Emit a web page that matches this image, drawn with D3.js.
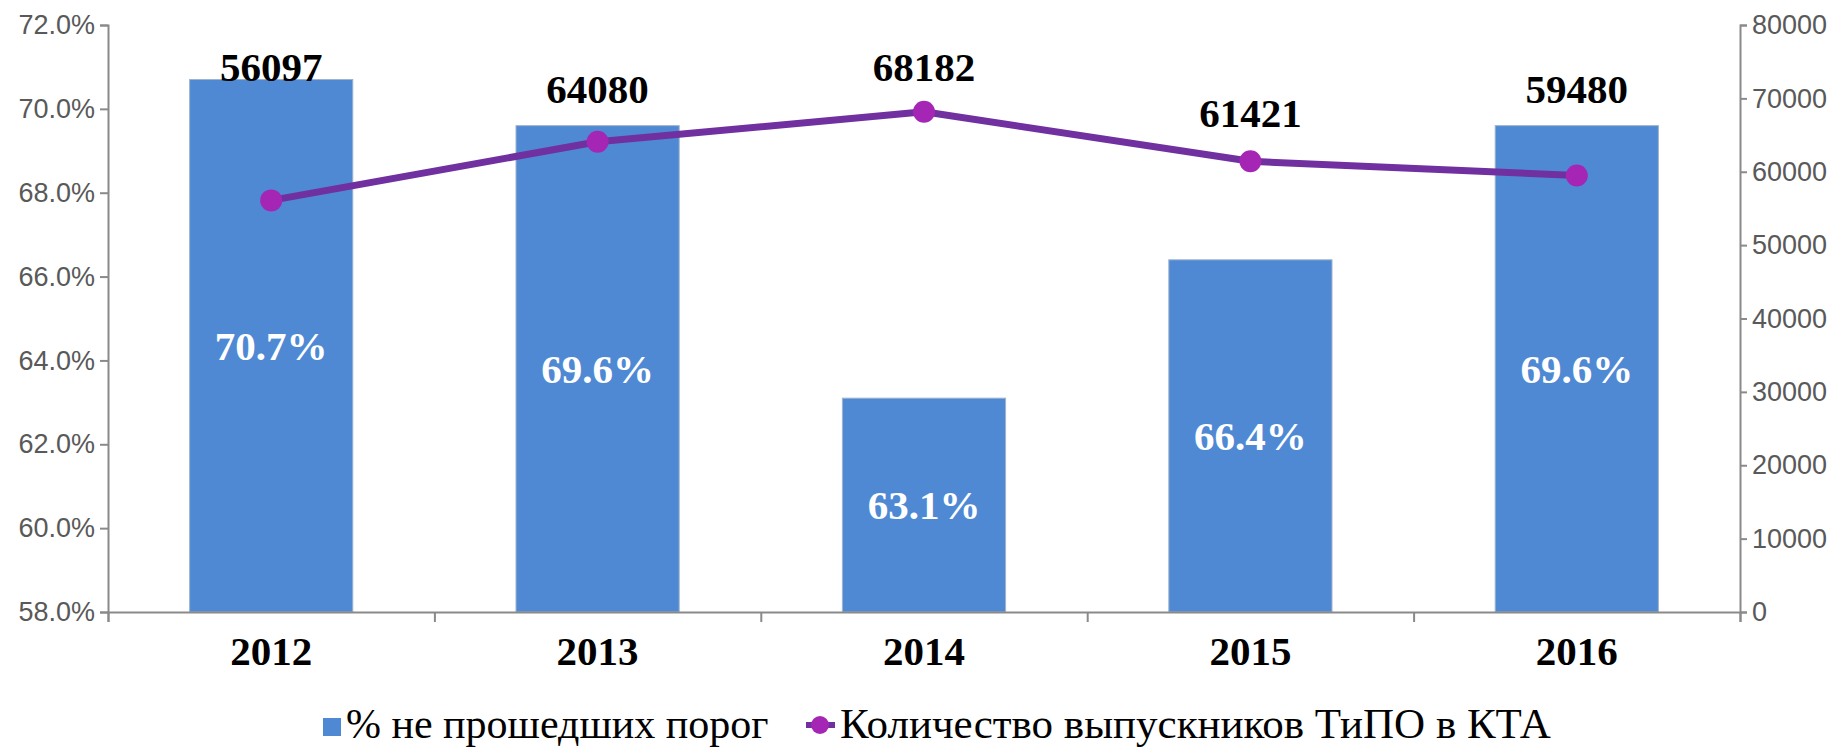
<!DOCTYPE html>
<html>
<head>
<meta charset="utf-8">
<script src="https://cdn.jsdelivr.net/npm/d3@7"></script>
<style>
  html, body { margin: 0; padding: 0; background: #fff; }
  svg { display: block; }
</style>
</head>
<body>
<svg width="1839" height="748"></svg>
<script>
// dati
var years = ["2012", "2013", "2014", "2015", "2016"];
var failShare = [70.7, 69.6, 63.1, 66.4, 69.6];          // % не прошедших порог
var graduates = [56097, 64080, 68182, 61421, 59480];     // Количество выпускников ТиПО в КТА
var leftTicks = [58, 60, 62, 64, 66, 68, 70, 72];
var rightTicks = [0, 10000, 20000, 30000, 40000, 50000, 60000, 70000, 80000];
var legendLabels = ["% не прошедших порог", "Количество выпускников ТиПО в КТА"];

var svg = d3.select("svg");
// "top" è già window.top, quindi nomi diversi
var plotLeft = 108, plotRight = 1740, plotTop = 25, plotBottom = 612;
var serif = "'Liberation Serif', 'Times New Roman', serif";
var sans = "'Liberation Sans', Arial, sans-serif";

var x = d3.scaleBand().domain(years).range([plotLeft, plotRight])
  .paddingInner(0.5).paddingOuter(0.25);
var xEdges = d3.scaleLinear().domain([0, years.length]).range([plotLeft, plotRight]);
var yLeft = d3.scaleLinear().domain([58, 72]).range([plotBottom, plotTop]);
var yRight = d3.scaleLinear().domain([0, 80000]).range([plotBottom, plotTop]);

var data = years.map((y, i) => ({year: y, pct: failShare[i], n: graduates[i]}));

// barre
svg.selectAll("rect.bar")
  .data(data)
  .enter()
  .append("rect")
    .attr("class", "bar")
    .attr("x", d => x(d.year))
    .attr("width", x.bandwidth())
    .attr("y", d => yLeft(d.pct))
    .attr("height", d => yLeft(58) - yLeft(d.pct))
    .style("fill", "#4F89D4")
    .style("stroke", "#9fb4cc")
    .style("stroke-width", 1);

// assi
function styleAxis(g) {
  g.select(".domain").attr("stroke", "#8a8a8a").attr("stroke-width", 2);
  g.selectAll(".tick line").attr("stroke", "#8a8a8a").attr("stroke-width", 2);
  g.selectAll(".tick text")
    .attr("fill", "#595959")
    .style("font-family", sans)
    .style("font-size", "27px");
}

svg.append("g")
    .attr("transform", `translate(0,${plotBottom})`)
    .call(d3.axisBottom(xEdges).tickValues(d3.range(years.length + 1)).tickFormat("").tickSize(10))
    .call(styleAxis);

svg.append("g")
    .attr("transform", `translate(${plotLeft},0)`)
    .call(d3.axisLeft(yLeft).tickValues(leftTicks).tickFormat(d => d.toFixed(1) + "%").tickSize(8).tickPadding(5))
    .call(styleAxis);

svg.append("g")
    .attr("transform", `translate(${plotRight},0)`)
    .call(d3.axisRight(yRight).tickValues(rightTicks).tickFormat(d => d).tickSize(7).tickPadding(5))
    .call(styleAxis);

// etichette anni
svg.selectAll("text.year")
  .data(years)
  .enter()
  .append("text")
    .attr("class", "year")
    .attr("x", d => x(d) + x.bandwidth() / 2)
    .attr("y", 665)
    .attr("text-anchor", "middle")
    .style("font-family", serif)
    .style("font-weight", "bold")
    .style("font-size", "41px")
    .text(d => d);

// linea
var line = d3.line()
  .x(d => x(d.year) + x.bandwidth() / 2)
  .y(d => yRight(d.n));

svg.append("path")
  .datum(data)
  .attr("d", line)
  .style("fill", "none")
  .style("stroke", "#7030A0")
  .style("stroke-width", 7)
  .style("stroke-linejoin", "round");

svg.selectAll("circle.pt")
  .data(data)
  .enter()
  .append("circle")
    .attr("class", "pt")
    .attr("cx", d => x(d.year) + x.bandwidth() / 2)
    .attr("cy", d => yRight(d.n))
    .attr("r", 11)
    .style("fill", "#A526B4");

// etichette dentro le barre
svg.selectAll("text.pct")
  .data(data)
  .enter()
  .append("text")
    .attr("class", "pct")
    .attr("x", d => x(d.year) + x.bandwidth() / 2)
    .attr("y", d => (yLeft(d.pct) + yLeft(58)) / 2 + 14)
    .attr("text-anchor", "middle")
    .style("font-family", serif)
    .style("font-weight", "bold")
    .style("font-size", "41px")
    .style("fill", "#fff")
    .text(d => d.pct.toFixed(1) + "%");

// etichette sopra la linea: sopra il punto, oppure sopra la barra se copre
svg.selectAll("text.num")
  .data(data)
  .enter()
  .append("text")
    .attr("class", "num")
    .attr("x", d => x(d.year) + x.bandwidth() / 2)
    .attr("y", d => Math.max(81, Math.min(yRight(d.n) - 34, yLeft(d.pct) - 23)))
    .attr("text-anchor", "middle")
    .style("font-family", serif)
    .style("font-weight", "bold")
    .style("font-size", "41px")
    .text(d => d.n);

// legenda
var lg = svg.append("g");
lg.append("rect")
  .attr("x", 323).attr("y", 718).attr("width", 18).attr("height", 18)
  .style("fill", "#4F89D4");
lg.append("text")
  .attr("x", 346).attr("y", 738)
  .style("font-family", serif).style("font-size", "42px")
  .text(legendLabels[0]);
lg.append("line")
  .attr("x1", 806).attr("x2", 835).attr("y1", 725).attr("y2", 725)
  .style("stroke", "#7030A0").style("stroke-width", 6);
lg.append("circle")
  .attr("cx", 820).attr("cy", 725).attr("r", 9)
  .style("fill", "#A526B4");
lg.append("text")
  .attr("x", 840).attr("y", 738)
  .style("font-family", serif).style("font-size", "43px")
  .text(legendLabels[1]);
</script>
</body>
</html>
